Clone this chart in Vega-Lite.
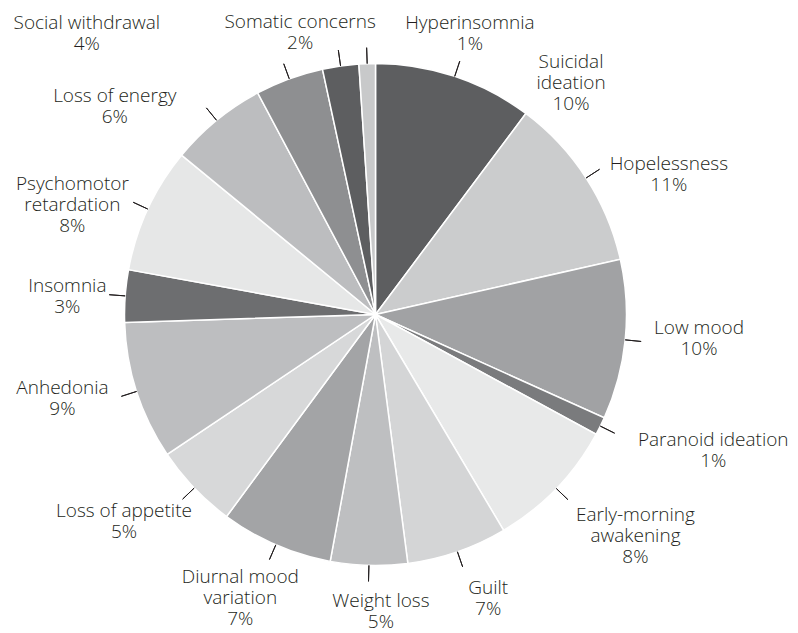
{
  "$schema": "https://vega.github.io/schema/vega-lite/v6.json",
  "autosize": "none",
  "width": 751,
  "height": 629,
  "padding": {"left": 0, "top": 0, "right": 47, "bottom": 4},
  "background": "#ffffff",
  "config": {"view": {"stroke": null}, "text": {"font": "Open Sans", "fontSize": 19, "fontWeight": 300, "fill": "#231f20", "align": "center", "baseline": "middle", "lineBreak": "\n", "lineHeight": 21}},
  "data": {"values": [
    {"idx": 1, "cat": "Suicidal ideation", "label": "Suicidal\nideation\n10%", "value": 36.8},
    {"idx": 2, "cat": "Hopelessness", "label": "Hopelessness\n11%", "value": 40.5},
    {"idx": 3, "cat": "Low mood", "label": "Low mood\n10%", "value": 37.0},
    {"idx": 4, "cat": "Paranoid ideation", "label": "Paranoid ideation\n1%", "value": 4.2},
    {"idx": 5, "cat": "Early-morning awakening", "label": "Early-morning\nawakening\n8%", "value": 30.8},
    {"idx": 6, "cat": "Guilt", "label": "Guilt\n7%", "value": 23.3},
    {"idx": 7, "cat": "Weight loss", "label": "Weight loss\n5%", "value": 17.8},
    {"idx": 8, "cat": "Diurnal mood variation", "label": "Diurnal mood\nvariation\n7%", "value": 26.0},
    {"idx": 9, "cat": "Loss of appetite", "label": "Loss of appetite\n5%", "value": 19.7},
    {"idx": 10, "cat": "Anhedonia", "label": "Anhedonia\n9%", "value": 32.1},
    {"idx": 11, "cat": "Insomnia", "label": "Insomnia\n3%", "value": 12.1},
    {"idx": 12, "cat": "Psychomotor retardation", "label": "Psychomotor\nretardation\n8%", "value": 29.1},
    {"idx": 13, "cat": "Loss of energy", "label": "Loss of energy\n6%", "value": 22.6},
    {"idx": 14, "cat": "Social withdrawal", "label": "Social withdrawal\n4%", "value": 15.8},
    {"idx": 15, "cat": "Somatic concerns", "label": "Somatic concerns\n2%", "value": 8.4},
    {"idx": 16, "cat": "Hyperinsomnia", "label": "Hyperinsomnia\n1%", "value": 3.8}
  ]},
  "encoding": {
    "theta": {"field": "value", "type": "quantitative", "stack": true},
    "order": {"field": "idx", "type": "quantitative"}
  },
  "layer": [
    {
      "mark": {"type": "arc", "outerRadius": 251, "stroke": "#ffffff", "strokeWidth": 1.5},
      "encoding": {
        "color": {"field": "cat", "type": "nominal", "legend": null,
          "scale": {
            "domain": ["Suicidal ideation", "Hopelessness", "Low mood", "Paranoid ideation", "Early-morning awakening", "Guilt", "Weight loss", "Diurnal mood variation", "Loss of appetite", "Anhedonia", "Insomnia", "Psychomotor retardation", "Loss of energy", "Social withdrawal", "Somatic concerns", "Hyperinsomnia"],
            "range": ["#5d5e60", "#cbcccd", "#a1a2a4", "#7a7b7d", "#e8e9e9", "#d4d5d6", "#bebfc1", "#a3a4a6", "#d7d8d9", "#bdbec0", "#6d6e70", "#e6e7e7", "#bcbdbf", "#8e8f91", "#5d5e60", "#c8c9ca"]
          }}
      }
    },
    {
      "mark": {"type": "arc", "outerRadius": 267, "innerRadius": 251, "padAngle": 3, "stroke": "#231f20", "strokeWidth": 1, "fillOpacity": 0},
      "encoding": {}
    },
    {
      "transform": [
        {"stack": "value", "groupby": [], "sort": [{"field": "idx", "order": "ascending"}], "as": ["s0", "s1"]},
        {"fold": ["s0", "s1"], "as": ["edge", "pos"]},
        {"aggregate": [{"op": "mean", "field": "pos", "as": "mid"}], "groupby": ["idx", "label"]}
      ],
      "encoding": {
        "theta": {"field": "mid", "type": "quantitative", "stack": null},
        "text": {"field": "label", "type": "nominal"}
      },
      "layer": [
        {"transform": [{"filter": "datum.idx == 1"}], "mark": {"type": "text", "radius": 290, "dx": 104, "dy": 23}},
        {"transform": [{"filter": "datum.idx == 2"}], "mark": {"type": "text", "radius": 290, "dx": 50, "dy": 7.5}},
        {"transform": [{"filter": "datum.idx == 3"}], "mark": {"type": "text", "radius": 290, "dx": 35, "dy": -16}},
        {"transform": [{"filter": "datum.idx == 4"}], "mark": {"type": "text", "radius": 290, "dx": 78, "dy": -3.5}},
        {"transform": [{"filter": "datum.idx == 5"}], "mark": {"type": "text", "radius": 290, "dx": 51, "dy": -1}},
        {"transform": [{"filter": "datum.idx == 6"}], "mark": {"type": "text", "radius": 290, "dx": 18, "dy": -0.5}},
        {"transform": [{"filter": "datum.idx == 7"}], "mark": {"type": "text", "radius": 290, "dx": 13, "dy": -3}},
        {"transform": [{"filter": "datum.idx == 8"}], "mark": {"type": "text", "radius": 290, "dx": -20, "dy": -4}},
        {"transform": [{"filter": "datum.idx == 9"}], "mark": {"type": "text", "radius": 290, "dx": -42, "dy": -4.5}},
        {"transform": [{"filter": "datum.idx == 10"}], "mark": {"type": "text", "radius": 290, "dx": -37, "dy": -15}},
        {"transform": [{"filter": "datum.idx == 11"}], "mark": {"type": "text", "radius": 290, "dx": -19, "dy": -7}},
        {"transform": [{"filter": "datum.idx == 12"}], "mark": {"type": "text", "radius": 290, "dx": -40, "dy": -9}},
        {"transform": [{"filter": "datum.idx == 13"}], "mark": {"type": "text", "radius": 290, "dx": -77, "dy": 5.5}},
        {"transform": [{"filter": "datum.idx == 14"}], "mark": {"type": "text", "radius": 290, "dx": -189, "dy": -19}},
        {"transform": [{"filter": "datum.idx == 15"}], "mark": {"type": "text", "radius": 290, "dx": -35, "dy": -5}},
        {"transform": [{"filter": "datum.idx == 16"}], "mark": {"type": "text", "radius": 290, "dx": 104, "dy": -2}}
      ]
    }
  ]
}
